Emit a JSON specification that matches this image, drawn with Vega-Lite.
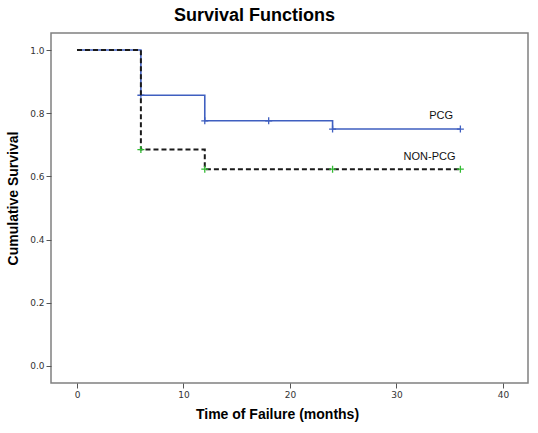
{
  "$schema": "https://vega.github.io/schema/vega-lite/v6.json",
  "autosize": "none",
  "width": 477,
  "height": 350,
  "padding": {"left": 51, "top": 33, "right": 10, "bottom": 50},
  "background": "white",
  "config": {
    "view": {"stroke": "#808080", "strokeWidth": 1.5},
    "font": "Liberation Sans",
    "axis": {"grid": false, "domain": false, "tickColor": "#555", "tickSize": 5, "labelColor": "#333", "labelFontSize": 9, "labelFont": "DejaVu Sans", "titleFont": "Liberation Sans", "titleFontSize": 14, "titleFontWeight": "bold", "titleColor": "#000"}
  },
  "title": {"text": "Survival Functions", "fontSize": 18, "fontWeight": "bold", "font": "Liberation Sans", "anchor": "middle", "dx": -35, "offset": 8, "color": "#000"},
  "datasets": {
    "curves": [
      {"group": "PCG", "time": 0, "surv": 1.0},
      {"group": "PCG", "time": 6, "surv": 0.857},
      {"group": "PCG", "time": 12, "surv": 0.776},
      {"group": "PCG", "time": 24, "surv": 0.75},
      {"group": "PCG", "time": 36, "surv": 0.75},
      {"group": "NON-PCG", "time": 0, "surv": 1.0},
      {"group": "NON-PCG", "time": 6, "surv": 0.685},
      {"group": "NON-PCG", "time": 12, "surv": 0.623},
      {"group": "NON-PCG", "time": 36, "surv": 0.623}
    ],
    "censor": [
      {"group": "PCG", "time": 6, "surv": 0.857},
      {"group": "PCG", "time": 12, "surv": 0.776},
      {"group": "PCG", "time": 18, "surv": 0.776},
      {"group": "PCG", "time": 24, "surv": 0.75},
      {"group": "PCG", "time": 36, "surv": 0.75},
      {"group": "NON-PCG", "time": 6, "surv": 0.685},
      {"group": "NON-PCG", "time": 12, "surv": 0.623},
      {"group": "NON-PCG", "time": 24, "surv": 0.623},
      {"group": "NON-PCG", "time": 36, "surv": 0.623}
    ],
    "labels": [
      {"label": "PCG", "time": 34.2, "surv": 0.79},
      {"label": "NON-PCG", "time": 33.1, "surv": 0.66}
    ]
  },
  "encoding": {
    "x": {"field": "time", "type": "quantitative", "scale": {"domain": [-2.44, 42.35], "nice": false, "zero": false}, "axis": {"values": [0, 10, 20, 30, 40], "title": "Time of Failure (months)", "titlePadding": 8, "titleX": 226}},
    "y": {"field": "surv", "type": "quantitative", "scale": {"domain": [-0.054, 1.054], "nice": false, "zero": false}, "axis": {"values": [0, 0.2, 0.4, 0.6, 0.8, 1.0], "format": ".1f", "title": "Cumulative Survival", "titlePadding": 9, "titleY": 165, "labelPadding": 2}}
  },
  "layer": [
    {
      "data": {"name": "curves"},
      "transform": [{"filter": "datum.group === 'PCG'"}],
      "mark": {"type": "line", "interpolate": "step-after", "color": "#3f5fc0", "strokeWidth": 1.6},
      "encoding": {"order": {"field": "time"}}
    },
    {
      "data": {"name": "censor"},
      "transform": [{"filter": "datum.group === 'PCG'"}],
      "mark": {"type": "point", "shape": "M-1,0H1M0,-1V1", "filled": false, "stroke": "#3f5fc0", "strokeWidth": 1.3, "size": 49, "opacity": 1}
    },
    {
      "data": {"name": "curves"},
      "transform": [{"filter": "datum.group === 'NON-PCG'"}],
      "mark": {"type": "line", "interpolate": "step-after", "color": "#1a1a1a", "strokeWidth": 2, "strokeDash": [5, 3]},
      "encoding": {"order": {"field": "time"}}
    },
    {
      "data": {"name": "censor"},
      "transform": [{"filter": "datum.group === 'NON-PCG'"}],
      "mark": {"type": "point", "shape": "M-1,0H1M0,-1V1", "filled": false, "stroke": "#33bb33", "strokeWidth": 1.3, "size": 49, "opacity": 1}
    },
    {
      "data": {"name": "labels"},
      "mark": {"type": "text", "fontSize": 11, "font": "Liberation Sans", "color": "#111"},
      "encoding": {"text": {"field": "label"}}
    }
  ]
}
